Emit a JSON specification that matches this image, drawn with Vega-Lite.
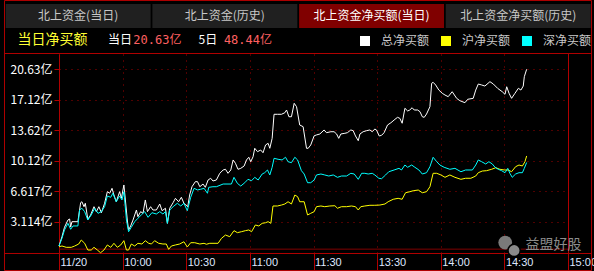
{
  "$schema": "https://vega.github.io/schema/vega-lite/v6.json",
  "width": 509,
  "height": 199,
  "autosize": "none",
  "padding": {"left": 59, "top": 54, "right": 26, "bottom": 18},
  "background": "#000000",
  "config": {"view": {"stroke": null}, "font": "Noto Sans CJK SC"},
  "datasets": {
    "tabs": [
      {"tab": "北上资金(当日)", "row": "tabs", "on": 0},
      {"tab": "北上资金(历史)", "row": "tabs", "on": 0},
      {"tab": "北上资金净买额(当日)", "row": "tabs", "on": 1},
      {"tab": "北上资金净买额(历史)", "row": "tabs", "on": 0}
    ],
    "info": [
      {"grp": "title", "row": "info", "kind": "title", "txt": "当日净买额"},
      {"grp": "p1", "row": "info", "kind": "label", "txt": "当日"},
      {"grp": "p1", "row": "info", "kind": "value", "txt": "20.63亿"},
      {"grp": "p2", "row": "info", "kind": "label", "txt": "5日"},
      {"grp": "p2", "row": "info", "kind": "value", "txt": "48.44亿"}
    ],
    "main": [
      {"s":"总净买额","t":0,"v":0.36},{"s":"总净买额","t":1.4,"v":1.43},{"s":"总净买额","t":2.6,"v":2.51},{"s":"总净买额","t":4.2,"v":3.34},{"s":"总净买额","t":5,"v":3.46},{"s":"总净买额","t":5.5,"v":2.54},{"s":"总净买额","t":6.1,"v":3.15},{"s":"总净买额","t":8.9,"v":3.15},{"s":"总净买额","t":10.2,"v":5.33},{"s":"总净买额","t":10.8,"v":5.44},{"s":"总净买额","t":11.8,"v":4.87},{"s":"总净买额","t":12.4,"v":5.26},{"s":"总净买额","t":13.6,"v":3.42},{"s":"总净买额","t":14.9,"v":3.92},{"s":"总净买额","t":16.5,"v":4.87},{"s":"总净买额","t":17.6,"v":4.3},{"s":"总净买额","t":18.8,"v":4.87},{"s":"总净买额","t":20,"v":4.18},{"s":"总净买额","t":21.5,"v":5.26},{"s":"总净买额","t":22.8,"v":6.59},{"s":"总净买额","t":23.9,"v":6.41},{"s":"总净买额","t":25,"v":6.98},{"s":"总净买额","t":25.9,"v":6.21},{"s":"总净买额","t":27,"v":5.44},{"s":"总净买额","t":28.6,"v":6.59},{"s":"总净买额","t":29.4,"v":5.83},{"s":"总净买额","t":30.6,"v":7.36},{"s":"总净买额","t":31.3,"v":5.64},{"s":"总净买额","t":32.2,"v":3.34},{"s":"总净买额","t":32.8,"v":2.2},{"s":"总净买额","t":33.8,"v":2.66},{"s":"总净买额","t":34.9,"v":3.34},{"s":"总净买额","t":36.5,"v":4.49},{"s":"总净买额","t":37.2,"v":3.72},{"s":"总净买额","t":38.5,"v":4.3},{"s":"总净买额","t":39.6,"v":4.11},{"s":"总净买额","t":40.7,"v":5.64},{"s":"总净买额","t":41.7,"v":4.3},{"s":"总净买额","t":43.2,"v":4.87},{"s":"总净买额","t":44.3,"v":4.49},{"s":"总净买额","t":45.9,"v":4.49},{"s":"总净买额","t":47.5,"v":5.18},{"s":"总净买额","t":48.6,"v":4.41},{"s":"总净买额","t":50.2,"v":4.69},{"s":"总净买额","t":51.1,"v":2.96},{"s":"总净买额","t":52.2,"v":4.69},{"s":"总净买额","t":53.8,"v":5.33},{"s":"总净买额","t":54.9,"v":5.83},{"s":"总净买额","t":56.4,"v":5.44},{"s":"总净买额","t":57.7,"v":5.95},{"s":"总净买额","t":58.9,"v":5.26},{"s":"总净买额","t":60.7,"v":4.87},{"s":"总净买额","t":61.6,"v":6.21},{"s":"总净买额","t":62.7,"v":7.16},{"s":"总净买额","t":64.3,"v":7.74},{"s":"总净买额","t":65.3,"v":7.74},{"s":"总净买额","t":66.4,"v":7.16},{"s":"总净买额","t":67.9,"v":7.47},{"s":"总净买额","t":69,"v":7.09},{"s":"总净买额","t":70.3,"v":7.93},{"s":"总净买额","t":71.5,"v":8.13},{"s":"总净买额","t":72.6,"v":7.82},{"s":"总净买额","t":74.2,"v":7.93},{"s":"总净买额","t":75.8,"v":8.7},{"s":"总净买额","t":77.4,"v":9.08},{"s":"总净买额","t":78.5,"v":9.16},{"s":"总净买额","t":79.7,"v":8.7},{"s":"总净买额","t":81,"v":9.08},{"s":"总净买额","t":82.1,"v":10.23},{"s":"总净买额","t":83.2,"v":9.85},{"s":"总净买额","t":84.4,"v":9.16},{"s":"总净买额","t":85.7,"v":9.27},{"s":"总净买额","t":87.3,"v":9.54},{"s":"总净买额","t":88.4,"v":10.23},{"s":"总净买额","t":89.5,"v":10.54},{"s":"总净买额","t":90.4,"v":10.03},{"s":"总净买额","t":91.5,"v":10.6},{"s":"总净买额","t":92.3,"v":11.57},{"s":"总净买额","t":93.6,"v":11.18},{"s":"总净买额","t":95.1,"v":11.37},{"s":"总净买额","t":96.2,"v":11.06},{"s":"总净买额","t":97.4,"v":11.95},{"s":"总净买额","t":98.6,"v":12.14},{"s":"总净买额","t":99.4,"v":11.57},{"s":"总净买额","t":100.5,"v":12.71},{"s":"总净买额","t":101.4,"v":15.47},{"s":"总净买额","t":103,"v":15.47},{"s":"总净买额","t":104.9,"v":15.47},{"s":"总净买额","t":106.5,"v":15.65},{"s":"总净买额","t":107.3,"v":15.96},{"s":"总净买额","t":108.4,"v":15.19},{"s":"总净买额","t":109.6,"v":15.19},{"s":"总净买额","t":110.9,"v":16.73},{"s":"总净买额","t":112,"v":16.34},{"s":"总净买额","t":113.5,"v":14.24},{"s":"总净买额","t":115.1,"v":14.05},{"s":"总净买额","t":116.7,"v":11.57},{"s":"总净买额","t":117.5,"v":11.57},{"s":"总净买额","t":118.7,"v":11.95},{"s":"总净买额","t":120.3,"v":13.0},{"s":"总净买额","t":121.4,"v":13.1},{"s":"总净买额","t":123,"v":13.21},{"s":"总净买额","t":125,"v":13.67},{"s":"总净买额","t":126.1,"v":13.36},{"s":"总净买额","t":128.2,"v":13.47},{"s":"总净买额","t":129.7,"v":13.47},{"s":"总净买额","t":130.9,"v":13.21},{"s":"总净买额","t":131.9,"v":12.71},{"s":"总净买额","t":132.9,"v":13.21},{"s":"总净买额","t":134.8,"v":13.29},{"s":"总净买额","t":136,"v":13.36},{"s":"总净买额","t":137.6,"v":13.67},{"s":"总净买额","t":138.7,"v":13.59},{"s":"总净买额","t":139.8,"v":12.98},{"s":"总净买额","t":141.1,"v":12.44},{"s":"总净买额","t":141.9,"v":13.21},{"s":"总净买额","t":143.4,"v":13.47},{"s":"总净买额","t":145,"v":13.59},{"s":"总净买额","t":146.6,"v":13.67},{"s":"总净买额","t":147.7,"v":13.47},{"s":"总净买额","t":148.9,"v":13.78},{"s":"总净买额","t":149.7,"v":13.67},{"s":"总净买额","t":151,"v":12.98},{"s":"总净买额","t":152.1,"v":13.06},{"s":"总净买额","t":153.3,"v":13.36},{"s":"总净买额","t":154.9,"v":14.24},{"s":"总净买额","t":156.5,"v":14.5},{"s":"总净买额","t":158.4,"v":14.89},{"s":"总净买额","t":159.6,"v":15.12},{"s":"总净买额","t":160.7,"v":15.01},{"s":"总净买额","t":161.8,"v":14.44},{"s":"总净买额","t":163.1,"v":16.16},{"s":"总净买额","t":164.4,"v":15.85},{"s":"总净买额","t":165.4,"v":15.96},{"s":"总净买额","t":166.5,"v":16.22},{"s":"总净买额","t":167.5,"v":15.96},{"s":"总净买额","t":169.1,"v":15.96},{"s":"总净买额","t":170.2,"v":15.77},{"s":"总净买额","t":171.3,"v":15.19},{"s":"总净买额","t":172.2,"v":15.12},{"s":"总净买额","t":173.3,"v":15.5},{"s":"总净买额","t":174.9,"v":16.34},{"s":"总净买额","t":175.7,"v":19.02},{"s":"总净买额","t":176.4,"v":19.14},{"s":"总净买额","t":177.6,"v":18.83},{"s":"总净买额","t":179.1,"v":18.25},{"s":"总净买额","t":180.7,"v":17.88},{"s":"总净买额","t":182,"v":17.68},{"s":"总净买额","t":183.5,"v":17.49},{"s":"总净买额","t":185.4,"v":18.06},{"s":"总净买额","t":187.5,"v":17.3},{"s":"总净买额","t":189,"v":17.03},{"s":"总净买额","t":191.4,"v":16.8},{"s":"总净买额","t":192.7,"v":17.19},{"s":"总净买额","t":195.3,"v":17.3},{"s":"总净买额","t":196.5,"v":18.25},{"s":"总净买额","t":197.7,"v":18.94},{"s":"总净买额","t":199.3,"v":18.83},{"s":"总净买额","t":200.8,"v":18.71},{"s":"总净买额","t":203.2,"v":19.21},{"s":"总净买额","t":204.8,"v":18.94},{"s":"总净买额","t":206.8,"v":18.45},{"s":"总净买额","t":209,"v":18.06},{"s":"总净买额","t":210.3,"v":17.76},{"s":"总净买额","t":211.1,"v":18.63},{"s":"总净买额","t":212.2,"v":17.88},{"s":"总净买额","t":213.4,"v":17.3},{"s":"总净买额","t":215,"v":17.88},{"s":"总净买额","t":216.6,"v":18.45},{"s":"总净买额","t":217.8,"v":18.25},{"s":"总净买额","t":218.9,"v":18.71},{"s":"总净买额","t":219.4,"v":19.78},{"s":"总净买额","t":220.5,"v":20.63},
      {"s":"沪净买额","t":0,"v":0.28},{"s":"沪净买额","t":1.4,"v":0.36},{"s":"沪净买额","t":3.4,"v":0.21},{"s":"沪净买额","t":5.8,"v":0.21},{"s":"沪净买额","t":7.4,"v":0.36},{"s":"沪净买额","t":9.3,"v":0.59},{"s":"沪净买额","t":10.5,"v":1.05},{"s":"沪净买额","t":12.1,"v":0.67},{"s":"沪净买额","t":13.6,"v":-0.1},{"s":"沪净买额","t":15.2,"v":-0.1},{"s":"沪净买额","t":16.5,"v":0.21},{"s":"沪净买额","t":18.1,"v":-0.1},{"s":"沪净买额","t":19.6,"v":-0.41},{"s":"沪净买额","t":21.2,"v":-0.1},{"s":"沪净买额","t":22.8,"v":0.48},{"s":"沪净买额","t":24.4,"v":0.21},{"s":"沪净买额","t":25.9,"v":0.67},{"s":"沪净买额","t":27.5,"v":0.21},{"s":"沪净买额","t":29.1,"v":0.48},{"s":"沪净买额","t":30.6,"v":0.97},{"s":"沪净买额","t":31.8,"v":-0.1},{"s":"沪净买额","t":32.8,"v":-0.1},{"s":"沪净买额","t":34.1,"v":0.59},{"s":"沪净买额","t":35.7,"v":0.36},{"s":"沪净买额","t":37.2,"v":0.67},{"s":"沪净买额","t":39.1,"v":0.59},{"s":"沪净买额","t":40.7,"v":0.97},{"s":"沪净买额","t":42.3,"v":0.67},{"s":"沪净买额","t":43.6,"v":0.59},{"s":"沪净买额","t":45.1,"v":0.97},{"s":"沪净买额","t":47,"v":0.67},{"s":"沪净买额","t":49,"v":0.59},{"s":"沪净买额","t":50.6,"v":0.59},{"s":"沪净买额","t":51.7,"v":-0.02},{"s":"沪净买额","t":53,"v":0.36},{"s":"沪净买额","t":54.9,"v":0.48},{"s":"沪净买额","t":56.9,"v":0.59},{"s":"沪净买额","t":58.9,"v":0.85},{"s":"沪净买额","t":60.5,"v":0.25},{"s":"沪净买额","t":62.1,"v":0.74},{"s":"沪净买额","t":64,"v":0.74},{"s":"沪净买额","t":66.4,"v":0.59},{"s":"沪净买额","t":68.4,"v":0.67},{"s":"沪净买额","t":69.5,"v":0.56},{"s":"沪净买额","t":71.1,"v":0.67},{"s":"沪净买额","t":75,"v":0.67},{"s":"沪净买额","t":76.6,"v":1.24},{"s":"沪净买额","t":78.5,"v":1.62},{"s":"沪净买额","t":80.5,"v":1.43},{"s":"沪净买额","t":82.5,"v":2.12},{"s":"沪净买额","t":84.1,"v":1.89},{"s":"沪净买额","t":86,"v":2.0},{"s":"沪净买额","t":87.9,"v":2.12},{"s":"沪净买额","t":89.5,"v":2.2},{"s":"沪净买额","t":90.8,"v":2.0},{"s":"沪净买额","t":92.6,"v":2.77},{"s":"沪净买额","t":94.2,"v":2.66},{"s":"沪净买额","t":95.8,"v":2.96},{"s":"沪净买额","t":97.4,"v":3.03},{"s":"沪净买额","t":98.6,"v":3.15},{"s":"沪净买额","t":99.9,"v":2.96},{"s":"沪净买额","t":100.9,"v":4.95},{"s":"沪净买额","t":103,"v":4.95},{"s":"沪净买额","t":104.9,"v":5.06},{"s":"沪净买额","t":106.5,"v":5.18},{"s":"沪净买额","t":108,"v":5.44},{"s":"沪净买额","t":109.6,"v":5.18},{"s":"沪净买额","t":111.2,"v":6.21},{"s":"沪净买额","t":112.5,"v":6.02},{"s":"沪净买额","t":113.5,"v":5.44},{"s":"沪净买额","t":115.6,"v":5.44},{"s":"沪净买额","t":117.2,"v":3.92},{"s":"沪净买额","t":118.7,"v":4.11},{"s":"沪净买额","t":120.3,"v":4.3},{"s":"沪净买额","t":121.4,"v":4.87},{"s":"沪净买额","t":123.5,"v":4.95},{"s":"沪净买额","t":125.3,"v":4.87},{"s":"沪净买额","t":127.7,"v":4.95},{"s":"沪净买额","t":130.1,"v":4.98},{"s":"沪净买额","t":131.3,"v":4.69},{"s":"沪净买额","t":133.2,"v":4.87},{"s":"沪净买额","t":135.6,"v":4.87},{"s":"沪净买额","t":137.9,"v":4.95},{"s":"沪净买额","t":139.8,"v":4.87},{"s":"沪净买额","t":141.1,"v":4.49},{"s":"沪净买额","t":142.3,"v":4.87},{"s":"沪净买额","t":144.2,"v":4.95},{"s":"沪净买额","t":146.6,"v":5.03},{"s":"沪净买额","t":148.9,"v":5.03},{"s":"沪净买额","t":151.3,"v":5.06},{"s":"沪净买额","t":153.7,"v":5.18},{"s":"沪净买额","t":155.2,"v":5.44},{"s":"沪净买额","t":157.6,"v":5.72},{"s":"沪净买额","t":159.9,"v":5.83},{"s":"沪净买额","t":161.8,"v":5.72},{"s":"沪净买额","t":163.4,"v":6.47},{"s":"沪净买额","t":165.5,"v":6.59},{"s":"沪净买额","t":167,"v":6.7},{"s":"沪净买额","t":169.4,"v":6.78},{"s":"沪净买额","t":171.3,"v":6.47},{"s":"沪净买额","t":173.3,"v":6.59},{"s":"沪净买额","t":174.9,"v":7.16},{"s":"沪净买额","t":176.4,"v":8.7},{"s":"沪净买额","t":178.1,"v":8.7},{"s":"沪净买额","t":180.1,"v":8.51},{"s":"沪净买额","t":182,"v":8.24},{"s":"沪净买额","t":184.3,"v":8.51},{"s":"沪净买额","t":186.7,"v":8.24},{"s":"沪净买额","t":189.5,"v":8.01},{"s":"沪净买额","t":191.7,"v":8.13},{"s":"沪净买额","t":194.2,"v":8.13},{"s":"沪净买额","t":196.5,"v":8.39},{"s":"沪净买额","t":197.7,"v":8.77},{"s":"沪净买额","t":199.6,"v":8.96},{"s":"沪净买额","t":201.6,"v":9.0},{"s":"沪净买额","t":204,"v":9.16},{"s":"沪净买额","t":205.9,"v":9.34},{"s":"沪净买额","t":207.9,"v":9.16},{"s":"沪净买额","t":210,"v":9.08},{"s":"沪净买额","t":211.8,"v":9.08},{"s":"沪净买额","t":213.4,"v":8.88},{"s":"沪净买额","t":215.3,"v":9.46},{"s":"沪净买额","t":216.9,"v":9.65},{"s":"沪净买额","t":218.5,"v":9.54},{"s":"沪净买额","t":219.7,"v":10.03},{"s":"沪净买额","t":220.5,"v":10.69},
      {"s":"深净买额","t":0,"v":0.36},{"s":"深净买额","t":1.4,"v":1.24},{"s":"深净买额","t":2.6,"v":2.2},{"s":"深净买额","t":4.2,"v":2.96},{"s":"深净买额","t":5.5,"v":2.28},{"s":"深净买额","t":6.6,"v":2.66},{"s":"深净买额","t":8.9,"v":2.66},{"s":"深净买额","t":9.7,"v":4.49},{"s":"深净买额","t":10.8,"v":4.69},{"s":"深净买额","t":12.1,"v":4.3},{"s":"深净买额","t":13.6,"v":3.34},{"s":"深净买额","t":15.2,"v":3.92},{"s":"深净买额","t":16.8,"v":4.69},{"s":"深净买额","t":18.4,"v":4.11},{"s":"深净买额","t":20,"v":4.3},{"s":"深净买额","t":21.5,"v":4.87},{"s":"深净买额","t":22.8,"v":6.1},{"s":"深净买额","t":24.4,"v":5.95},{"s":"深净买额","t":25.4,"v":6.41},{"s":"深净买额","t":27,"v":5.44},{"s":"深净买额","t":28.6,"v":6.1},{"s":"深净买额","t":29.7,"v":5.64},{"s":"深净买额","t":30.6,"v":6.59},{"s":"深净买额","t":31.8,"v":3.34},{"s":"深净买额","t":32.8,"v":2.0},{"s":"深净买额","t":34.1,"v":2.51},{"s":"深净买额","t":35.7,"v":3.15},{"s":"深净买额","t":37.2,"v":3.54},{"s":"深净买额","t":38.8,"v":3.92},{"s":"深净买额","t":40.4,"v":4.3},{"s":"深净买额","t":42,"v":3.65},{"s":"深净买额","t":43.8,"v":4.18},{"s":"深净买额","t":45.9,"v":4.03},{"s":"深净买额","t":47.5,"v":4.3},{"s":"深净买额","t":49,"v":4.03},{"s":"深净买额","t":50.2,"v":4.3},{"s":"深净买额","t":51.1,"v":2.96},{"s":"深净买额","t":52.2,"v":4.49},{"s":"深净买额","t":53.8,"v":4.87},{"s":"深净买额","t":55.8,"v":5.26},{"s":"深净买额","t":57.4,"v":4.95},{"s":"深净买额","t":58.9,"v":5.26},{"s":"深净买额","t":60.5,"v":4.41},{"s":"深净买额","t":62.1,"v":5.95},{"s":"深净买额","t":63.7,"v":6.98},{"s":"深净买额","t":65.3,"v":6.79},{"s":"深净买额","t":66.8,"v":6.87},{"s":"深净买额","t":68.4,"v":6.98},{"s":"深净买额","t":70,"v":6.41},{"s":"深净买额","t":70.6,"v":7.09},{"s":"深净买额","t":72.6,"v":7.16},{"s":"深净买额","t":74.2,"v":7.16},{"s":"深净买额","t":77.4,"v":7.47},{"s":"深净买额","t":81.3,"v":7.47},{"s":"深净买额","t":82.5,"v":8.24},{"s":"深净买额","t":84.1,"v":7.55},{"s":"深净买额","t":85.7,"v":7.24},{"s":"深净买额","t":87.6,"v":7.62},{"s":"深净买额","t":89.1,"v":8.01},{"s":"深净买额","t":90.8,"v":7.85},{"s":"深净买额","t":92.3,"v":8.24},{"s":"深净买额","t":93.9,"v":7.93},{"s":"深净买额","t":95.8,"v":8.62},{"s":"深净买额","t":97,"v":8.77},{"s":"深净买额","t":98.3,"v":9.08},{"s":"深净买额","t":99.4,"v":8.51},{"s":"深净买额","t":100.5,"v":9.39},{"s":"深净买额","t":101.4,"v":10.42},{"s":"深净买额","t":103.3,"v":10.31},{"s":"深净买额","t":105.2,"v":10.23},{"s":"深净买额","t":106.8,"v":10.54},{"s":"深净买额","t":108,"v":10.03},{"s":"深净买额","t":109.6,"v":9.92},{"s":"深净买额","t":111.2,"v":10.54},{"s":"深净买额","t":112.5,"v":10.23},{"s":"深净买额","t":114.3,"v":9.0},{"s":"深净买额","t":115.6,"v":8.62},{"s":"深净买额","t":117.2,"v":7.62},{"s":"深净买额","t":118.7,"v":7.62},{"s":"深净买额","t":120.3,"v":7.93},{"s":"深净买额","t":121.4,"v":8.51},{"s":"深净买额","t":123.5,"v":8.62},{"s":"深净买额","t":125.3,"v":8.51},{"s":"深净买额","t":127.2,"v":8.39},{"s":"深净买额","t":129.3,"v":8.51},{"s":"深净买额","t":131.3,"v":8.24},{"s":"深净买额","t":133.2,"v":8.39},{"s":"深净买额","t":135.6,"v":8.39},{"s":"深净买额","t":137.6,"v":8.7},{"s":"深净买额","t":139.2,"v":8.62},{"s":"深净买额","t":141.1,"v":8.01},{"s":"深净买额","t":142.7,"v":8.7},{"s":"深净买额","t":144.2,"v":8.7},{"s":"深净买额","t":145.8,"v":8.62},{"s":"深净买额","t":147.7,"v":8.7},{"s":"深净买额","t":148.9,"v":8.51},{"s":"深净买额","t":150.8,"v":8.13},{"s":"深净买额","t":152.1,"v":8.08},{"s":"深净买额","t":154,"v":8.51},{"s":"深净买额","t":155.5,"v":8.88},{"s":"深净买额","t":158,"v":9.08},{"s":"深净买额","t":160.3,"v":9.27},{"s":"深净买额","t":161.5,"v":9.08},{"s":"深净买额","t":163.1,"v":9.65},{"s":"深净买额","t":164.4,"v":9.39},{"s":"深净买额","t":166.3,"v":9.65},{"s":"深净买额","t":167.8,"v":9.39},{"s":"深净买额","t":169.7,"v":9.08},{"s":"深净买额","t":171.3,"v":8.62},{"s":"深净买额","t":173.3,"v":8.77},{"s":"深净买额","t":174.9,"v":9.46},{"s":"深净买额","t":176.4,"v":10.54},{"s":"深净买额","t":178.1,"v":10.03},{"s":"深净买额","t":179.6,"v":9.65},{"s":"深净买额","t":181.6,"v":9.39},{"s":"深净买额","t":184.3,"v":9.16},{"s":"深净买额","t":186.7,"v":9.27},{"s":"深净买额","t":189.5,"v":8.88},{"s":"深净买额","t":191.7,"v":9.08},{"s":"深净买额","t":194.9,"v":9.08},{"s":"深净买额","t":196.5,"v":9.65},{"s":"深净买额","t":197.7,"v":10.23},{"s":"深净买额","t":199.3,"v":10.03},{"s":"深净买额","t":201.2,"v":9.77},{"s":"深净买额","t":202.7,"v":10.03},{"s":"深净买额","t":204.3,"v":9.77},{"s":"深净买额","t":205.6,"v":9.39},{"s":"深净买额","t":207.1,"v":9.16},{"s":"深净买额","t":208.7,"v":9.0},{"s":"深净买额","t":210.3,"v":8.77},{"s":"深净买额","t":211.6,"v":9.27},{"s":"深净买额","t":212.6,"v":8.7},{"s":"深净买额","t":213.7,"v":8.24},{"s":"深净买额","t":215.3,"v":8.62},{"s":"深净买额","t":216.9,"v":8.77},{"s":"深净买额","t":218.5,"v":8.77},{"s":"深净买额","t":219.4,"v":9.27},{"s":"深净买额","t":220.5,"v":9.94}
    ]
  },
  "layer": [
    {
      "data": {"name": "tabs"},
      "layer": [
        {
          "mark": {"type": "rect"},
          "encoding": {
            "x": {"field": "tab", "type": "nominal", "sort": null, "axis": null,
                  "scale": {"type": "band", "domain": ["北上资金(当日)", "北上资金(历史)", "北上资金净买额(当日)", "北上资金净买额(历史)"], "range": [-53.3, 531.7], "paddingInner": 0.012, "paddingOuter": 0}},
            "y": {"field": "row", "type": "nominal", "axis": null,
                  "scale": {"type": "band", "domain": ["tabs", "info"], "range": [-50, -2], "paddingInner": 0, "paddingOuter": 0}},
            "color": {"condition": {"test": "datum.on == 1", "value": "#800000"}, "value": "#202020"}
          }
        },
        {
          "mark": {"type": "text", "fontSize": 12, "font": "Noto Sans CJK SC", "align": "center", "baseline": "middle"},
          "encoding": {
            "x": {"field": "tab", "type": "nominal", "sort": null, "axis": null,
                  "scale": {"type": "band", "domain": ["北上资金(当日)", "北上资金(历史)", "北上资金净买额(当日)", "北上资金净买额(历史)"], "range": [-53.3, 531.7], "paddingInner": 0.012, "paddingOuter": 0}},
            "y": {"field": "row", "type": "nominal", "axis": null,
                  "scale": {"type": "band", "domain": ["tabs", "info"], "range": [-50, -2], "paddingInner": 0, "paddingOuter": 0}},
            "text": {"field": "tab"},
            "color": {"condition": {"test": "datum.on == 1", "value": "#ffffff"}, "value": "#c8c8c8"}
          }
        }
      ]
    },
    {
      "data": {"name": "info"},
      "encoding": {
        "x": {"field": "grp", "type": "nominal", "axis": null,
              "scale": {"type": "band", "domain": ["title", "p1", "p2"], "range": [-41.5, 213], "paddingInner": 0.188, "paddingOuter": 0}},
        "y": {"field": "row", "type": "nominal", "axis": null,
              "scale": {"type": "band", "domain": ["tabs", "info"], "range": [-50, -2], "paddingInner": 0, "paddingOuter": 0}},
        "text": {"field": "txt"}
      },
      "layer": [
        {
          "transform": [{"filter": "datum.kind == 'title'"}],
          "mark": {"type": "text", "fontSize": 14, "font": "Noto Sans CJK SC", "align": "left", "baseline": "middle", "color": "#ffff33"},
          "encoding": {"x": {"field": "grp", "type": "nominal", "bandPosition": 0, "axis": null,
              "scale": {"type": "band", "domain": ["title", "p1", "p2"], "range": [-41.5, 213], "paddingInner": 0.188, "paddingOuter": 0}}}
        },
        {
          "transform": [{"filter": "datum.kind == 'label'"}],
          "mark": {"type": "text", "fontSize": 12, "font": "Noto Sans CJK SC", "align": "left", "baseline": "middle", "color": "#ffffff"},
          "encoding": {"x": {"field": "grp", "type": "nominal", "bandPosition": 0, "axis": null,
              "scale": {"type": "band", "domain": ["title", "p1", "p2"], "range": [-41.5, 213], "paddingInner": 0.188, "paddingOuter": 0}}}
        },
        {
          "transform": [{"filter": "datum.kind == 'value'"}],
          "mark": {"type": "text", "fontSize": 12, "font": "DejaVu Sans Mono, Noto Sans CJK SC", "align": "right", "baseline": "middle", "color": "#ff6060"},
          "encoding": {"x": {"field": "grp", "type": "nominal", "bandPosition": 1, "axis": null,
              "scale": {"type": "band", "domain": ["title", "p1", "p2"], "range": [-41.5, 213], "paddingInner": 0.188, "paddingOuter": 0}}}
        }
      ]
    },
    {
      "layer": [
        {
          "data": {"values": [{}]},
          "mark": {"type": "rect", "fill": "transparent", "stroke": "#b00000", "strokeWidth": 1},
          "encoding": {
            "x": {"datum": -25.7, "type": "quantitative"},
            "x2": {"datum": 251.1},
            "y": {"datum": 28.52, "type": "quantitative"},
            "y2": {"datum": -2.45}
          }
        },
        {
          "data": {"values": [{}]},
          "mark": {"type": "rule", "color": "#b00000", "strokeWidth": 1},
          "encoding": {
            "x": {"datum": -25.7, "type": "quantitative"},
            "x2": {"datum": 251.1},
            "y": {"datum": 22.442, "type": "quantitative"}
          }
        },
        {
          "data": {"values": [{}]},
          "mark": {"type": "rule", "color": "#b00000", "strokeWidth": 1},
          "encoding": {
            "x": {"datum": -25.7, "type": "quantitative"},
            "x2": {"datum": 251.1},
            "y": {"datum": -0.499, "type": "quantitative"}
          }
        },
        {
          "data": {"values": [{}]},
          "mark": {"type": "rule", "color": "#b00000", "strokeWidth": 1},
          "encoding": {"x": {"datum": 240.24, "type": "quantitative"}}
        },
        {
          "data": {"values": [{}]},
          "mark": {"type": "rule", "color": "#800000", "strokeWidth": 1},
          "encoding": {"y": {"datum": 0, "type": "quantitative"}}
        },
        {
          "data": {"values": [{"k": "a"}]},
          "mark": {"type": "point", "shape": "circle", "filled": true, "size": 190, "color": "#7a7a7a", "opacity": 1},
          "encoding": {
            "x": {"datum": 210.4, "type": "quantitative"},
            "y": {"datum": 0.75, "type": "quantitative"}
          }
        },
        {
          "data": {"values": [{"k": "b"}]},
          "mark": {"type": "point", "shape": "circle", "filled": true, "size": 150, "color": "#8a8a8a", "stroke": "#000000", "strokeWidth": 1.5, "opacity": 1},
          "encoding": {
            "x": {"datum": 214.6, "type": "quantitative"},
            "y": {"datum": -0.15, "type": "quantitative"}
          }
        },
        {
          "data": {"values": [{}]},
          "mark": {"type": "text", "text": "益盟好股", "fontSize": 14, "font": "Noto Sans CJK SC", "color": "#8c8c8c", "align": "center", "baseline": "middle"},
          "encoding": {
            "x": {"datum": 233.2, "type": "quantitative"},
            "y": {"datum": 0.47, "type": "quantitative"}
          }
        },
        {
          "data": {"name": "main"},
          "mark": {"type": "line", "strokeWidth": 1, "interpolate": "linear"},
          "encoding": {
            "x": {"field": "t", "type": "quantitative",
                  "scale": {"domain": [0, 240], "nice": false, "zero": false},
                  "axis": {"values": [0, 30, 60, 90, 120, 150, 180, 210, 240], "tickCount": 20,
                           "labelExpr": "['11/20','10:00','10:30','11:00','11:30','13:30','14:00','14:30','15:00'][round(datum.value/30)]",
                           "title": null, "grid": true, "gridColor": "#a00000", "gridDash": [1, 5],
                           "domainColor": "#b00000", "tickColor": "#b00000", "tickSize": 18,
                           "labelPadding": -9, "labelBaseline": "middle", "labelAlign": "left", "labelOffset": 1,
                           "labelColor": "#dfe6ff", "labelFont": "Liberation Sans", "labelFontSize": 11,
                           "labelOverlap": false, "labelFlush": false, "labelBound": false}},
            "y": {"field": "v", "type": "quantitative",
                  "scale": {"domain": [-0.442, 22.385], "nice": false, "zero": false},
                  "axis": {"values": [3.114, 6.617, 10.12, 13.62, 17.12, 20.63], "tickCount": 20,
                           "labelExpr": "datum.value + '亿'",
                           "title": null, "grid": true, "gridColor": "#a00000", "gridDash": [1, 5],
                           "domainColor": "#b00000", "tickColor": "#b00000", "tickSize": 5, "labelPadding": 2,
                           "labelColor": "#ffffff", "labelFont": "Noto Sans CJK SC", "labelFontSize": 12,
                           "labelOverlap": false, "labelBound": false}},
            "color": {"field": "s", "type": "nominal", "sort": null,
                      "scale": {"domain": ["总净买额", "沪净买额", "深净买额"], "range": ["#ffffff", "#ffff00", "#00ffff"]},
                      "legend": {"orient": "none", "legendX": 300, "legendY": -19, "direction": "horizontal", "title": null,
                                 "symbolType": "square", "symbolSize": 100, "symbolStrokeWidth": 0,
                                 "labelColor": "#c8c8c8", "labelFontSize": 12, "labelFont": "Noto Sans CJK SC",
                                 "labelOffset": 10, "columnPadding": 10, "padding": 0,
                                 "encode": {"symbols": {"update": {"fill": {"scale": "color", "field": "value"}, "stroke": {"value": "transparent"}, "opacity": {"value": 1}}}}}}
          }
        }
      ]
    }
  ],
  "resolve": {"scale": {"x": "independent", "y": "independent"}}
}
